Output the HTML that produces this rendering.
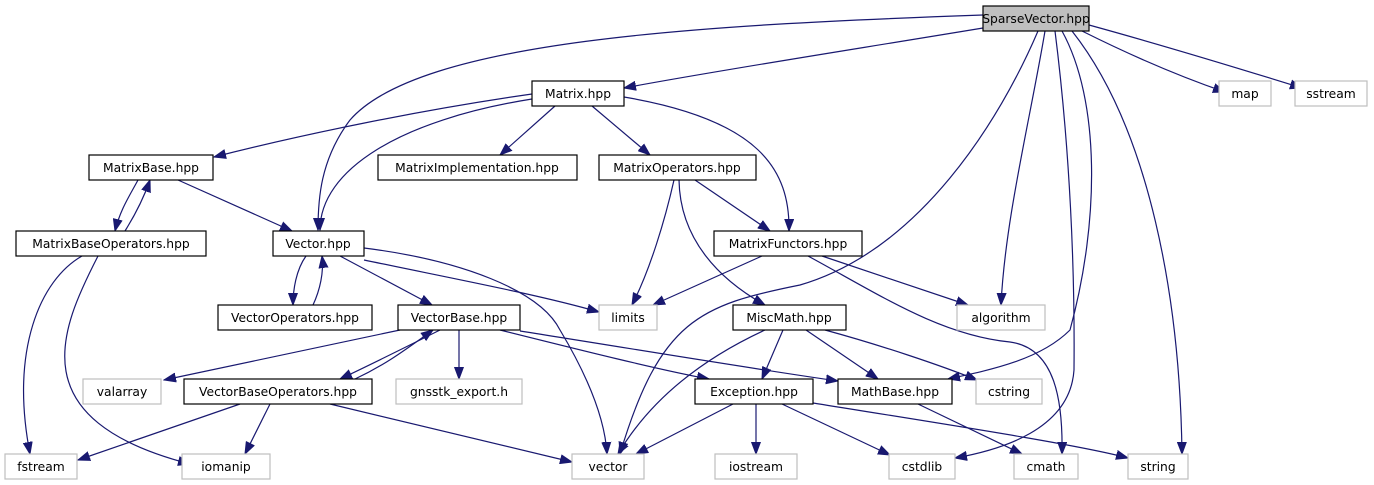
<!DOCTYPE html>
<html><head><meta charset="utf-8"><style>
html,body{margin:0;padding:0;background:#fff;}
svg{display:block;}
text{font-family:"DejaVu Sans","Liberation Sans",sans-serif;font-size:12.3px;fill:#000;text-anchor:middle;}
.n{fill:#fff;stroke:#000;stroke-width:1.2;}
.g{fill:#fff;stroke:#bfbfbf;stroke-width:1.2;}
path{fill:none;stroke:#191970;stroke-width:1.2;}
</style></head><body>
<svg width="1374" height="485" viewBox="0 0 1374 485">
<defs><marker id="a" markerUnits="userSpaceOnUse" markerWidth="13" markerHeight="10" refX="12" refY="5" orient="auto"><path d="M0,0.5 L12,5 L0,9.5 Z" style="fill:#191970;stroke:#191970;stroke-width:1"/></marker></defs>
<g marker-end="url(#a)">
<path d="M983,15 C700,25 420,40 350,120 C320,160 318,200 318,230"/>
<path d="M983,28 C850,50 720,70 624,88"/>
<path d="M1038,31 C1000,120 920,250 800,285 C700,305 660,320 620,454"/>
<path d="M1045,31 C1030,120 1005,220 1001,305"/>
<path d="M1062,31 C1100,100 1100,220 1070,330 C1040,360 990,370 948,379"/>
<path d="M1055,31 C1070,150 1075,270 1074,370 C1070,430 1000,450 955,458"/>
<path d="M1072,31 C1150,130 1180,300 1182,454"/>
<path d="M1082,31 C1140,60 1190,80 1225,92"/>
<path d="M1089,25 C1180,50 1260,75 1302,88"/>
<path d="M532,94 C420,110 300,135 214,157"/>
<path d="M532,99 C400,120 320,170 320,230"/>
<path d="M555,106 L500,155"/>
<path d="M592,106 L650,155"/>
<path d="M624,97 C760,120 790,170 789,231"/>
<path d="M138,180 C130,195 120,210 115,231"/>
<path d="M125,231 C135,215 143,200 150,180"/>
<path d="M178,180 L292,231"/>
<path d="M82,256 C40,280 10,350 30,454"/>
<path d="M98,256 C60,330 20,420 190,464"/>
<path d="M306,256 C296,270 293,290 293,305"/>
<path d="M313,305 C320,290 324,272 322,256"/>
<path d="M340,256 L432,305"/>
<path d="M364,260 C460,280 540,295 599,312"/>
<path d="M364,248 C460,260 540,290 560,330 C590,380 605,420 607,454"/>
<path d="M674,180 C665,220 650,270 632,305"/>
<path d="M679,180 C680,240 720,280 765,305"/>
<path d="M695,180 L770,231"/>
<path d="M762,256 L653,305"/>
<path d="M822,256 L968,305"/>
<path d="M808,256 C880,295 940,335 1010,342 C1055,348 1063,400 1062,454"/>
<path d="M400,330 L164,380"/>
<path d="M440,330 C400,350 370,365 340,379"/>
<path d="M355,379 C385,365 405,350 433,330"/>
<path d="M459,330 L459,379"/>
<path d="M500,330 C580,350 660,370 709,379"/>
<path d="M520,331 C640,350 760,370 838,381"/>
<path d="M240,404 L78,460"/>
<path d="M270,404 L245,454"/>
<path d="M330,404 L572,462"/>
<path d="M765,330 C700,360 650,400 618,454"/>
<path d="M783,330 L762,379"/>
<path d="M806,330 L878,379"/>
<path d="M825,330 C880,345 940,365 977,380"/>
<path d="M733,404 L636,454"/>
<path d="M756,404 L756,454"/>
<path d="M782,404 L890,455"/>
<path d="M813,403 C950,425 1080,445 1128,458"/>
<path d="M918,404 L1022,454"/>
</g>
<rect x="983" y="6" width="106" height="25" style="fill:#bfbfbf;stroke:#000;stroke-width:1.2"/><text x="1036" y="23">SparseVector.hpp</text>
<rect class="n" x="532" y="81" width="92" height="25"/><text x="578" y="98">Matrix.hpp</text>
<rect class="g" x="1219" y="81" width="52" height="25"/><text x="1245" y="98">map</text>
<rect class="g" x="1295" y="81" width="72" height="25"/><text x="1331" y="98">sstream</text>
<rect class="n" x="89" y="155" width="124" height="25"/><text x="151" y="172">MatrixBase.hpp</text>
<rect class="n" x="378" y="155" width="199" height="25"/><text x="477" y="172">MatrixImplementation.hpp</text>
<rect class="n" x="599" y="155" width="157" height="25"/><text x="677" y="172">MatrixOperators.hpp</text>
<rect class="n" x="16" y="231" width="190" height="25"/><text x="111" y="248">MatrixBaseOperators.hpp</text>
<rect class="n" x="273" y="231" width="91" height="25"/><text x="318" y="248">Vector.hpp</text>
<rect class="n" x="714" y="231" width="148" height="25"/><text x="788" y="248">MatrixFunctors.hpp</text>
<rect class="n" x="218" y="305" width="154" height="25"/><text x="295" y="322">VectorOperators.hpp</text>
<rect class="n" x="398" y="305" width="122" height="25"/><text x="459" y="322">VectorBase.hpp</text>
<rect class="g" x="599" y="305" width="58" height="25"/><text x="628" y="322">limits</text>
<rect class="n" x="733" y="305" width="113" height="25"/><text x="789" y="322">MiscMath.hpp</text>
<rect class="g" x="957" y="305" width="88" height="25"/><text x="1001" y="322">algorithm</text>
<rect class="g" x="83" y="379" width="78" height="25"/><text x="122" y="396">valarray</text>
<rect class="n" x="184" y="379" width="188" height="25"/><text x="278" y="396">VectorBaseOperators.hpp</text>
<rect class="g" x="396" y="379" width="126" height="25"/><text x="459" y="396">gnsstk_export.h</text>
<rect class="n" x="695" y="379" width="118" height="25"/><text x="754" y="396">Exception.hpp</text>
<rect class="n" x="838" y="379" width="114" height="25"/><text x="895" y="396">MathBase.hpp</text>
<rect class="g" x="976" y="379" width="66" height="25"/><text x="1009" y="396">cstring</text>
<rect class="g" x="5" y="454" width="72" height="25"/><text x="41" y="471">fstream</text>
<rect class="g" x="182" y="454" width="88" height="25"/><text x="226" y="471">iomanip</text>
<rect class="g" x="572" y="454" width="72" height="25"/><text x="608" y="471">vector</text>
<rect class="g" x="715" y="454" width="82" height="25"/><text x="756" y="471">iostream</text>
<rect class="g" x="889" y="454" width="66" height="25"/><text x="922" y="471">cstdlib</text>
<rect class="g" x="1014" y="454" width="64" height="25"/><text x="1046" y="471">cmath</text>
<rect class="g" x="1128" y="454" width="60" height="25"/><text x="1158" y="471">string</text>
</svg>
</body></html>
